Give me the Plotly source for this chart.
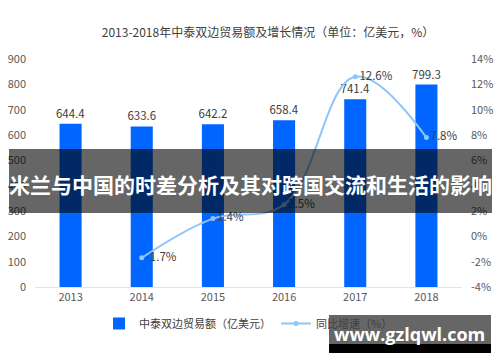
import plotly.graph_objects as go

years = ["2013", "2014", "2015", "2016", "2017", "2018"]
trade = [644.4, 633.6, 642.2, 658.4, 741.4, 799.3]
growth = [None, -1.7, 1.4, 2.5, 12.6, 7.8]
growth_labels = ["", "-1.7%", "1.4%", "2.5%", "12.6%", "7.8%"]
left_ticks = [0, 100, 200, 300, 400, 500, 600, 700, 800, 900]
right_ticks = [-4, -2, 0, 2, 4, 6, 8, 10, 12, 14]

FONT = "Noto Sans CJK SC, Noto Sans, sans-serif"

fig = go.Figure()
fig.add_trace(go.Bar(
    x=years, y=trade, name="中泰双边贸易额（亿美元）",
    marker=dict(color="#0066FF", line=dict(width=0)),
    width=0.31,
    text=[f"{v:.1f}" for v in trade], textposition="outside",
    constraintext="none",
    textfont=dict(size=11.5, color="#404040", family=FONT),
    cliponaxis=False,
))
fig.add_trace(go.Scatter(
    x=years, y=growth, name="同比增速（%）", yaxis="y2",
    mode="lines+markers+text",
    line=dict(color="#8EC5FA", width=2, shape="spline", smoothing=1.1),
    marker=dict(color="#8EC5FA", size=5),
    text=growth_labels, textposition="middle right",
    textfont=dict(size=11.5, color="#404040", family=FONT),
    cliponaxis=False,
))

fig.update_layout(
    width=500, height=362,
    margin=dict(l=35, r=38, t=59, b=75, autoexpand=False),
    paper_bgcolor="white", plot_bgcolor="white",
    font=dict(family=FONT, size=10, color="#595959"),
    title=dict(text="2013-2018年中泰双边贸易额及增长情况（单位：亿美元，%）",
               x=268/500, xanchor="center", xref="container",
               y=1-33/362, yanchor="middle",
               font=dict(size=12, color="#404040", family=FONT)),
    showlegend=True,
    legend=dict(orientation="h", x=0.5, xanchor="center", y=-0.16, yanchor="middle",
                font=dict(size=11, color="#404040", family=FONT),
                itemwidth=30, bgcolor="rgba(0,0,0,0)"),
    xaxis=dict(type="category", showgrid=False, showline=True, linecolor="#e3e3e3",
               linewidth=1, ticks="", automargin=False,
               tickfont=dict(size=11, color="#595959")),
    yaxis=dict(range=[0, 900], tickvals=left_ticks, showgrid=False, zeroline=False,
               ticks="", automargin=False, ticklabelstandoff=8,
               tickfont=dict(size=11, color="#595959")),
    yaxis2=dict(range=[-4, 14], tickvals=right_ticks,
                ticktext=[f"{t}%" for t in right_ticks],
                overlaying="y", side="right", showgrid=False, zeroline=False,
                ticks="", automargin=False, ticklabelstandoff=8,
                tickfont=dict(size=11, color="#595959")),
)

def px_x(p):
    return (p - 35) / 427.0

def px_y(p):
    return (287 - p) / 228.0

# banner overlay
fig.add_shape(type="rect", xref="paper", yref="paper",
              x0=px_x(9), x1=px_x(492), y0=px_y(213), y1=px_y(149),
              fillcolor="rgba(0,0,0,0.6)", line=dict(width=0), layer="above")
fig.add_annotation(text="<b>米兰与中国的时差分析及其对跨国交流和生活的影响</b>",
                   xref="paper", yref="paper", x=px_x(250), y=px_y(184),
                   showarrow=False, xanchor="center", yanchor="middle",
                   font=dict(size=21, color="white", family="Noto Sans CJK SC"))

# watermark
fig.add_shape(type="rect", xref="paper", yref="paper",
              x0=px_x(329), x1=px_x(491), y0=px_y(344), y1=px_y(315),
              fillcolor="rgba(0,0,0,0.6)", line=dict(width=0), layer="above")
fig.add_shape(type="rect", xref="paper", yref="paper",
              x0=px_x(329), x1=px_x(491), y0=px_y(353), y1=px_y(344),
              fillcolor="black", line=dict(width=0), layer="above")
fig.add_annotation(text="<b>www.gzlqwl.com</b>",
                   xref="paper", yref="paper", x=px_x(409), y=px_y(334),
                   showarrow=False, xanchor="center", yanchor="middle",
                   font=dict(size=18, color="white", family="Open Sans, DejaVu Sans"))

fig.write_html("out.html", config={"displayModeBar": False},
               post_script="document.body.style.margin='0';")
